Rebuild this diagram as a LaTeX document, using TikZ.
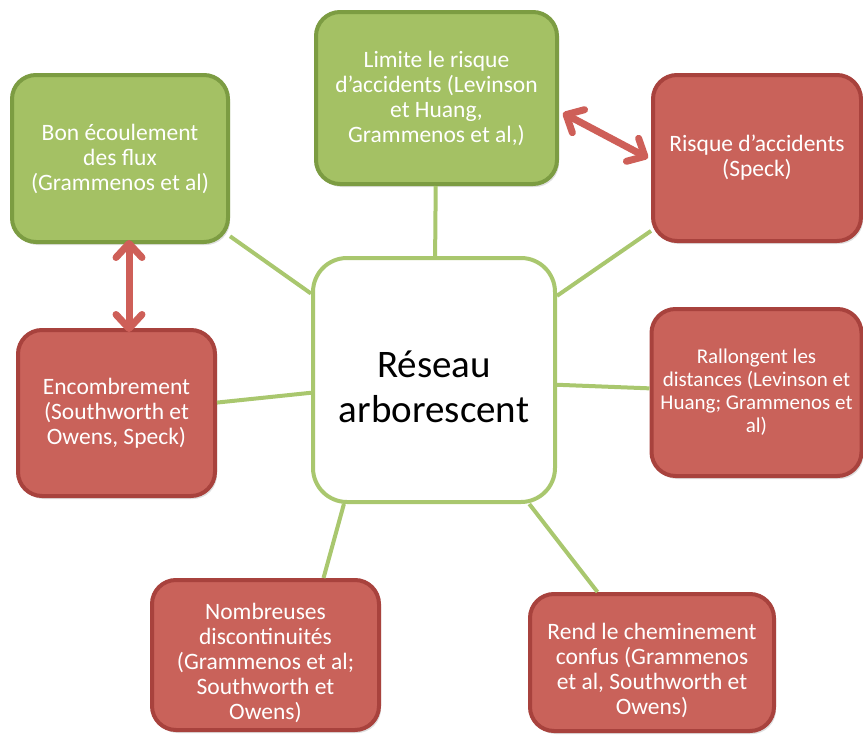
\documentclass[tikz,border=0pt]{standalone}
\usepackage{fontspec}
\setmainfont{Carlito}
\usetikzlibrary{arrows.meta,shadows}
\definecolor{gfill}{HTML}{A4C164}
\definecolor{gline}{HTML}{7C9C42}
\definecolor{rfill}{HTML}{C9625A}
\definecolor{rline}{HTML}{A8423D}
\definecolor{cline}{HTML}{A9C76E}
\definecolor{link}{HTML}{A9C76E}
\definecolor{arrowred}{HTML}{CE5F58}
\tikzset{
  box/.style={rectangle, rounded corners=24pt, line width=4pt, align=center,
    text=white, inner sep=0pt, font=\fontsize{23.5}{25}\selectfont,
    drop shadow={opacity=0.25, shadow xshift=2pt, shadow yshift=-3pt}},
  gbox/.style={box, fill=gfill, draw=gline},
  rbox/.style={box, fill=rfill, draw=rline},
  cbox/.style={rectangle, rounded corners=34pt, line width=4pt, draw=cline, fill=white,
    minimum width=242pt, minimum height=244pt},
  txt/.style={align=center, inner sep=0pt},
  link/.style={draw=link, line width=4pt},
  dbl/.style={draw=arrowred, line width=7pt, line cap=round,
    {Straight Barb[length=14pt,width=26pt,round]}-{Straight Barb[length=14pt,width=26pt,round]}}
}
\begin{document}
\begin{tikzpicture}[x=1pt,y=-1pt]
\useasboundingbox (0,0) rectangle (863,744);
% center
\node[cbox] (c) at (434,380) {};
\node[txt, text=black, font=\fontsize{39}{45}\selectfont] (ct) at (434,387) {Réseau\\arborescent};
% boxes
\node[gbox, minimum width=216pt, minimum height=167pt] (tl) at (120,158.5)
  {Bon écoulement\\des flux\\(Grammenos et al)};
\node[gbox, minimum width=241pt, minimum height=172pt] (top) at (436.5,98)
  {Limite le risque\\d’accidents (Levinson\\et Huang,\\Grammenos et al,)};
\node[rbox, minimum width=208pt, minimum height=166pt] (tr) at (757,158)
  {Risque d’accidents\\(Speck)};
\node[rbox, minimum width=210pt, minimum height=167pt, font=\fontsize{21}{23}\selectfont] (rb) at (756.5,392.5)
  {Rallongent les\\distances (Levinson et\\Huang; Grammenos et\\al)};
\node[rbox, minimum width=197pt, minimum height=166pt] (lb) at (116.5,413)
  {Encombrement\\(Southworth et\\Owens, Speck)};
\node[rbox, minimum width=227pt, minimum height=150pt] (bl) at (265.5,655) {};
\node[txt, text=white, font=\fontsize{23.5}{25}\selectfont] (blt) at (265.5,663)
  {Nombreuses\\discontinuités\\(Grammenos et al;\\Southworth et\\Owens)};
\node[rbox, minimum width=244pt, minimum height=137pt] (br) at (652,662.5) {};
\node[txt, text=white, font=\fontsize{23.5}{25}\selectfont] (brt) at (652,670)
  {Rend le cheminement\\confus (Grammenos\\et al, Southworth et\\Owens)};
% links
\draw[link] (top) -- (c);
\draw[link] (tl) -- (c);
\draw[link] (tr) -- (c);
\draw[link] (rb) -- (c);
\draw[link] (lb) -- (c);
\draw[link] (bl.53) -- (c.234);
\draw[link] (br) -- (c);
% double arrows
\draw[dbl] ([xshift=9pt,yshift=4pt]tl.south) -- ([xshift=12.5pt,yshift=-4pt]lb.north);
\draw[dbl] ([xshift=4pt,yshift=-15pt]top.east) -- ([xshift=-3pt,yshift=0pt]tr.west);
\end{tikzpicture}
\end{document}
